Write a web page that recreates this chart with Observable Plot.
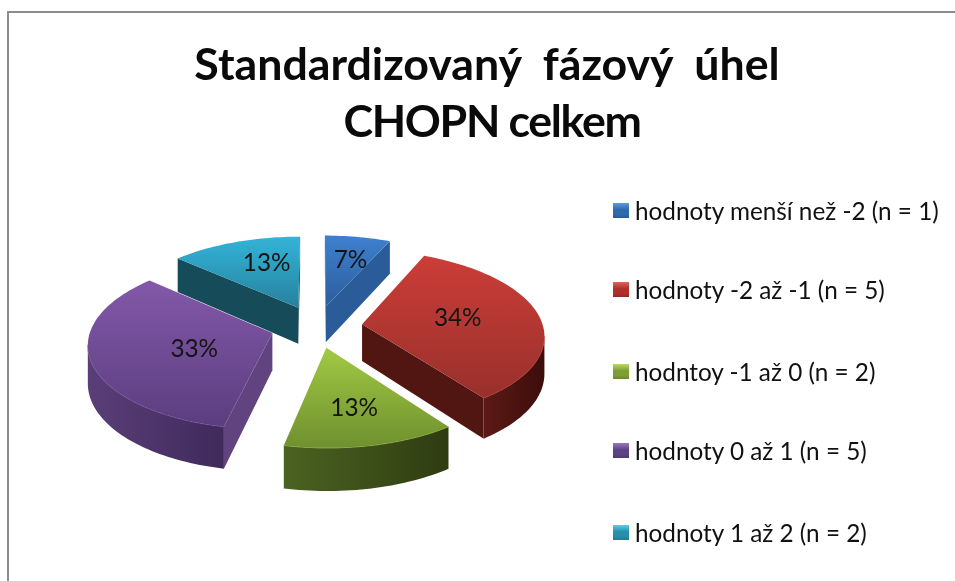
<!DOCTYPE html>
<html>
<head>
<meta charset="utf-8">
<script src="https://cdn.jsdelivr.net/npm/d3@7"></script>
<script src="https://cdn.jsdelivr.net/npm/@observablehq/plot@0.6"></script>
<style>
html,body{margin:0;padding:0;background:#fff;}
#wrap{position:relative;width:955px;height:581px;overflow:hidden;font-family:Lato,"Open Sans",sans-serif;color:#111;}
#frame{position:absolute;left:7px;top:11px;right:-4px;bottom:-4px;border:2px solid #8c8c8c;}
#title{position:absolute;left:9px;width:956px;top:35px;text-align:center;font-weight:700;font-size:44.7px;line-height:57px;white-space:pre;color:#0a0a0a;filter:blur(.4px);}
#title div:nth-child(2){letter-spacing:-1.35px;position:relative;left:5px;}
#chart{position:absolute;left:0;top:150px;filter:blur(.5px);}
#chart svg text{font-family:Lato,sans-serif;font-variant:normal;font-variant-numeric:normal;}
#legend{position:absolute;left:613px;top:0;}
.row{position:absolute;left:0;white-space:pre;font-size:24.3px;line-height:26px;display:flex;align-items:center;filter:blur(.35px);}
.sw{width:16px;height:15px;margin-right:6px;flex:none;position:relative;top:-1px;}
</style>
</head>
<body>
<div id="wrap"><div id="frame"></div><div id="title"></div><div id="chart"></div><div id="legend"></div></div>
<script>
const titleLines = ["Standardizovaný  fázový  úhel", "CHOPN celkem"];
const categories = ["hodnoty menší než -2 (n = 1)", "hodnoty -2 až -1 (n = 5)", "hodntoy -1 až 0 (n = 2)", "hodnoty 0 až 1 (n = 5)", "hodnoty 1 až 2 (n = 2)"];
const counts = [1, 5, 2, 5, 2];
const percentLabels = ["7%", "34%", "13%", "33%", "13%"];
const topColors = [["#3f80cf","#2b5e9c"],["#cc3d38","#98302b"],["#a2c944","#6f902e"],["#8358a9","#5b3e7f"],["#33b4d9","#26819d"]];
const cutColors = ["#2a5c99","#521612","#3a4f16","#61437f","#164b5a"];
const arcColors = [["#2a5c99","#1f4675"],["#5c1a16","#3c0d0a"],["#4b6321","#2e3c11"],["#5a3e78","#3f2a5b"],["#164b5a","#10394a"]];

// view geometry of the tilted, exploded disc
const CX = 316, CY = 326, R = 181, TOP = 150, W = 600, H = 431;
const tilt = 0.46, persp = 0.115, explode = 0.254, depth = 0.204;
const project = (X, Y, d = 0) => { const w = 1 - persp * Y; return {x: X / w, y: (tilt * Y + d) / w}; };

const pie = d3.pie().sort(null).value(d => d)(counts);
const slices = pie.map((p, i) => {
  const a0 = p.startAngle, a1 = p.endAngle, m = (a0 + a1) / 2;
  const ox = explode * Math.sin(m), oy = -explode * Math.cos(m);
  const rim = t => [ox + Math.sin(t), oy - Math.cos(t)];
  const n = Math.max(8, Math.round((a1 - a0) * 40));
  const arc = d3.range(n + 1).map(j => rim(a0 + (a1 - a0) * j / n));
  return {i, m, ox, oy, apex: [ox, oy], arc};
});
const paintOrder = [4, 0, 1, 3, 2];

const topFace = s => [s.apex, ...s.arc].map(([X, Y]) => project(X, Y));
const wall = pts => [...pts.map(([X, Y]) => project(X, Y)), ...pts.slice().reverse().map(([X, Y]) => project(X, Y, depth))];

const marks = [() => {
  const defs = d3.create("svg:defs");
  const grad = (id, c, horiz) => {
    const g = defs.append("linearGradient").attr("id", id).attr("x1", 0).attr("y1", 0).attr("x2", horiz ? 1 : 0).attr("y2", horiz ? 0 : 1);
    g.append("stop").attr("offset", 0).attr("stop-color", c[0]);
    g.append("stop").attr("offset", 1).attr("stop-color", c[1]);
  };
  topColors.forEach((c, i) => grad("top" + i, c, false));
  arcColors.forEach((c, i) => grad("arc" + i, c, true));
  return defs.node();
}];

const poly = (pts, fill) => Plot.line(pts, {x: "x", y: "y", fill, stroke: "none", curve: "linear"});

for (const i of paintOrder) {
  const s = slices[i];
  const p = s.arc.map(([X, Y]) => project(X, Y));
  const first = s.arc[0], last = s.arc[s.arc.length - 1];
  // cut faces, only where they turn towards the viewer
  if (project(...first).x < project(...s.apex).x - 1e-3) marks.push(poly(wall([s.apex, first]), cutColors[i]));
  if (project(...s.apex).x < project(...last).x - 1e-3) marks.push(poly(wall([last, s.apex]), cutColors[i]));
  // outer wall: the run of rim that moves leftwards on screen
  const run = s.arc.filter((q, j) => (j + 1 < p.length && p[j + 1].x < p[j].x) || (j > 0 && p[j].x < p[j - 1].x));
  if (run.length > 1) {
    marks.push(poly(wall(run), `url(#arc${i})`));
    marks.push(Plot.line(run.map(([X, Y]) => project(X, Y)), {x: "x", y: "y", stroke: topColors[i][0], strokeWidth: 1.2, strokeOpacity: 0.6, curve: "linear"}));
  }
  marks.push(poly(topFace(s), `url(#top${i})`));
}

// percentage labels sit part-way along each slice
const labelReach = 0.55;
const labelNudge = [[0.04, -0.09], [-0.01, -0.02], [0.02, 0.095], [0.11, 0.02], [0.025, -0.1]];
const labelData = slices.map(s => {
  const X = s.ox + labelReach * Math.sin(s.m) + labelNudge[s.i][0];
  const Y = s.oy - labelReach * Math.cos(s.m) + labelNudge[s.i][1];
  return {...project(X, Y), t: percentLabels[s.i]};
});
marks.push(Plot.text(labelData, {x: "x", y: "y", text: "t", fontSize: 24.3, fontVariant: "normal", fill: "#141414"}));

const chart = Plot.plot({
  width: W, height: H, margin: 0,
  x: {domain: [-CX / R, (W - CX) / R], range: [0, W], axis: null},
  y: {domain: [(TOP - CY) / R, (TOP + H - CY) / R], range: [0, H], axis: null},
  style: {background: "transparent"},
  marks
});
document.getElementById("chart").appendChild(chart);

const titleEl = document.getElementById("title");
titleLines.forEach(t => { const d = document.createElement("div"); d.textContent = t; titleEl.appendChild(d); });

const swatches = ["#2f6aad,#5a9be0","#b02f2b,#e06460","#7d9f34,#bcd86a","#5f4285,#9a78c0","#2590ad,#62cbe8"];
const rowTops = [198, 277, 359, 438, 520];
const legend = document.getElementById("legend");
categories.forEach((c, i) => {
  const [d, l] = swatches[i].split(",");
  const row = document.createElement("div");
  row.className = "row";
  row.style.top = rowTops[i] + "px";
  const sw = document.createElement("span");
  sw.className = "sw";
  sw.style.background = `linear-gradient(180deg, ${l} 0%, ${d} 45%, ${d} 75%, #00000055 130%), ${d}`;
  row.appendChild(sw);
  row.appendChild(document.createTextNode(c));
  legend.appendChild(row);
});
</script>
</body>
</html>
